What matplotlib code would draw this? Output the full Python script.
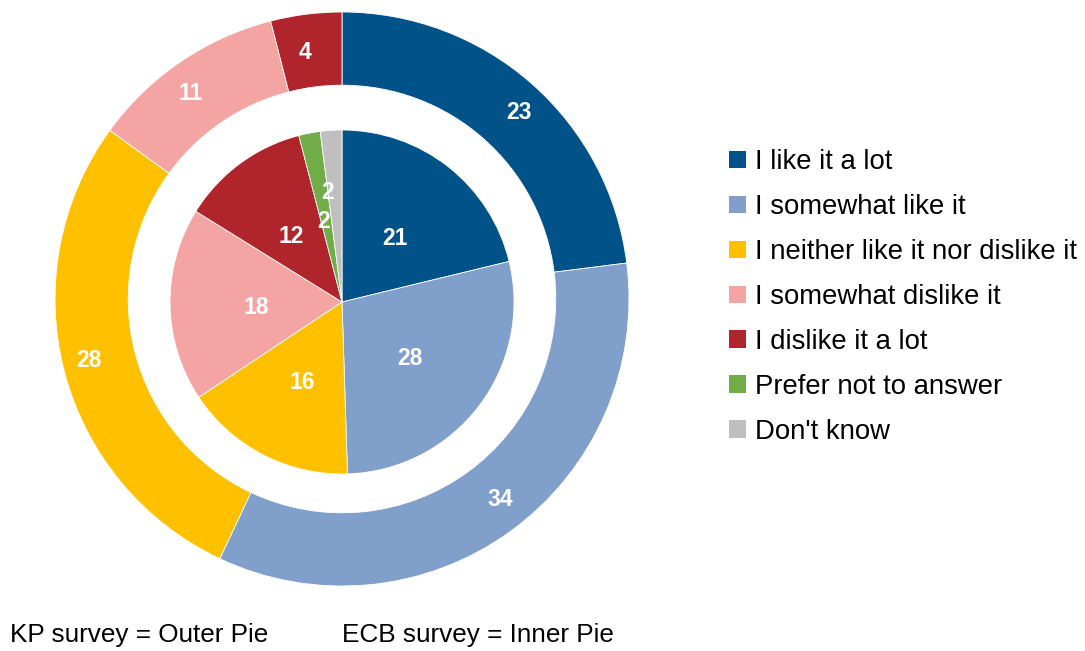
import matplotlib.pyplot as plt
from matplotlib.patches import Patch

plt.rcParams['font.family'] = ['Liberation Sans', 'DejaVu Sans']

categories = ['I like it a lot', 'I somewhat like it', 'I neither like it nor dislike it',
              'I somewhat dislike it', 'I dislike it a lot', 'Prefer not to answer', "Don't know"]
colors = ['#005288', '#809FCB', '#FFC000', '#F4A4A2', '#B0242B', '#70AD47', '#BFBFBF']

# KP survey (outer ring) has no "prefer not" / "don't know" answers
kp_values = [23, 34, 28, 11, 4]
ecb_values = [21, 28, 16, 18, 12, 2, 2]

fig = plt.figure(figsize=(10.85, 6.51), dpi=100)
W, H = 1085, 651
cx, cy, R = 342, 299, 287
pad = 292
ax = fig.add_axes([(cx - pad) / W, (H - cy - pad) / H, 2 * pad / W, 2 * pad / H])

label_font = dict(color='white', fontsize=16.5, fontweight='bold')

# outer ring
ax.pie(kp_values, radius=1.0, colors=colors[:len(kp_values)], startangle=90, counterclock=False,
       labels=[str(v) for v in kp_values], labeldistance=0.865, textprops=label_font,
       wedgeprops=dict(width=0.255, edgecolor='white', linewidth=0.6))

# inner pie, sits a touch lower than the ring
inner_r = 172 / R
dy = -3 / R
wedges, texts = ax.pie(ecb_values, radius=inner_r, center=(0, dy), colors=colors, startangle=90,
                       counterclock=False, labels=[str(v) for v in ecb_values], labeldistance=0.5,
                       textprops=label_font, wedgeprops=dict(edgecolor='white', linewidth=0.6))
for t in texts:
    x, y = t.get_position()
    t.set_position((x, y - 4 / R))
    t.set_ha('center')
    t.set_va('center')
# small slices: labels stacked like the original
texts[5].set_position((-0.065, 0.27))
texts[6].set_position((-0.05, 0.37))

# pie() resets limits, so set them afterwards
lim = pad / R
ax.set_xlim(-lim, lim)
ax.set_ylim(-lim, lim)
ax.set_aspect('equal')
ax.axis('off')

handles = [Patch(facecolor=c, edgecolor='none') for c in colors]
fig.legend(handles, categories, loc='upper left', bbox_to_anchor=(718 / W, 1 - 138 / H),
           frameon=False, fontsize=19.8, handlelength=0.6, handleheight=0.6,
           handletextpad=0.35, labelspacing=0.69, borderaxespad=0)

fig.text(10 / W, 1 - 635 / H, 'KP survey = Outer Pie', fontsize=18.8, va='center', ha='left')
fig.text(342 / W, 1 - 635 / H, 'ECB survey = Inner Pie', fontsize=18.8, va='center', ha='left')

fig.savefig('out.png', dpi=100)
